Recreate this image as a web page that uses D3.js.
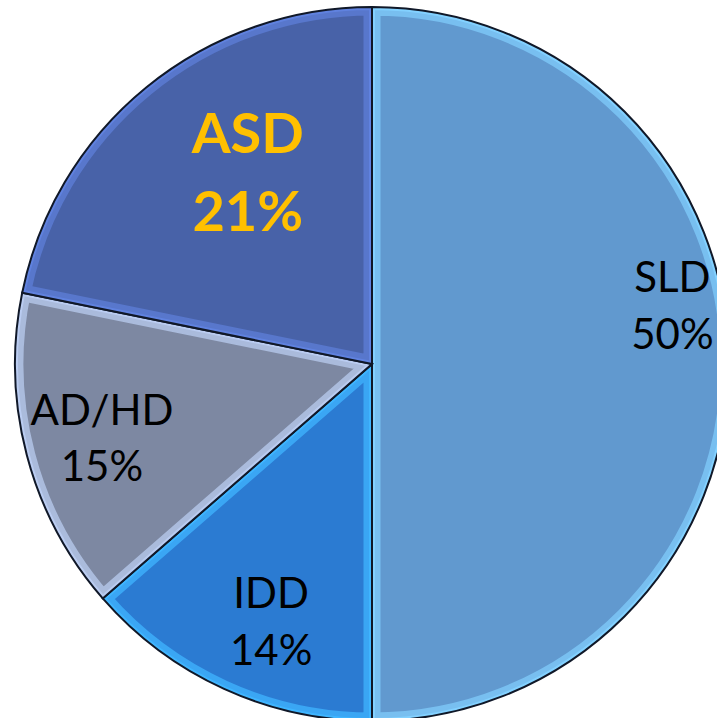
<!DOCTYPE html>
<html>
<head>
<meta charset="utf-8">
<script src="https://cdn.jsdelivr.net/npm/d3@7"></script>
<style>
  html, body { margin: 0; padding: 0; background: #ffffff; }
  svg { display: block; }
</style>
</head>
<body>
<script>
// ---- data ----
const categories = ["SLD", "IDD", "AD/HD", "ASD"];
const percentLabels = ["50%", "14%", "15%", "21%"];
const values = [50, 13.6, 14.6, 21.8];

// ---- styles ----
const fillColors = ["#6199cf", "#2b7bd2", "#7d88a2", "#4862a8"];
const bandColors = ["#78bff0", "#3aa6f4", "#aabbdc", "#5877cc"];
const textColors = ["#000000", "#000000", "#000000", "#ffc000"];
const fontWeights = ["normal", "normal", "normal", "bold"];
const fontSizes = [42, 42, 42, 56];
const lineGaps = [57, 57, 56, 78];
// label placement: radius and angular shift (degrees) from slice mid-angle
const labelRadius = [306, 276, 280, 229];
const labelShift = [-11, -3.05, -0.55, 6.4];

const W = 717, H = 718;
const cx = 372, cy = 364, R = 357;

const svg = d3.select("body").append("svg").attr("width", W).attr("height", H);
const g = svg.append("g").attr("transform", `translate(${cx},${cy})`);

const pie = d3.pie().sort(null).value(d => d)(values);
const arc = d3.arc().innerRadius(0).outerRadius(R);

const defs = svg.append("defs");
pie.forEach((d, i) => {
  defs.append("clipPath").attr("id", "clip" + i)
    .append("path").attr("d", arc(d));
});

const slices = g.selectAll("g.slice").data(pie).join("g").attr("class", "slice");

slices.append("path")
  .attr("d", arc)
  .attr("fill", (d, i) => fillColors[i]);

// bevel band
slices.append("path")
  .attr("d", arc)
  .attr("fill", "none")
  .attr("stroke", (d, i) => bandColors[i])
  .attr("stroke-width", 17)
  .attr("stroke-linejoin", "miter")
  .attr("clip-path", (d, i) => `url(#clip${i})`);

// inner highlight edge of band
slices.append("path")
  .attr("d", arc)
  .attr("fill", "none")
  .attr("stroke", (d, i) => d3.color(bandColors[i]).brighter(0.25))
  .attr("stroke-width", 6)
  .attr("clip-path", (d, i) => `url(#clip${i})`);

// dark outlines
slices.append("path")
  .attr("d", arc)
  .attr("fill", "none")
  .attr("stroke", "#101828")
  .attr("stroke-width", 2);

// labels
const labels = g.selectAll("text.lbl").data(pie).join("text")
  .attr("class", "lbl")
  .attr("text-anchor", "middle")
  .attr("font-family", "Lato, 'Open Sans', sans-serif")
  .attr("font-size", (d, i) => fontSizes[i])
  .attr("font-weight", (d, i) => fontWeights[i])
  .attr("fill", (d, i) => textColors[i])
  .each(function(d, i) {
    const a = (d.startAngle + d.endAngle) / 2 + labelShift[i] * Math.PI / 180;
    const x = labelRadius[i] * Math.sin(a);
    const y = -labelRadius[i] * Math.cos(a);
    const t = d3.select(this);
    const cap = fontSizes[i] * 0.36;
    t.append("tspan").attr("x", x).attr("y", y - lineGaps[i] / 2 + cap).text(categories[i]);
    t.append("tspan").attr("x", x).attr("y", y + lineGaps[i] / 2 + cap).text(percentLabels[i]);
  });
</script>
</body>
</html>
